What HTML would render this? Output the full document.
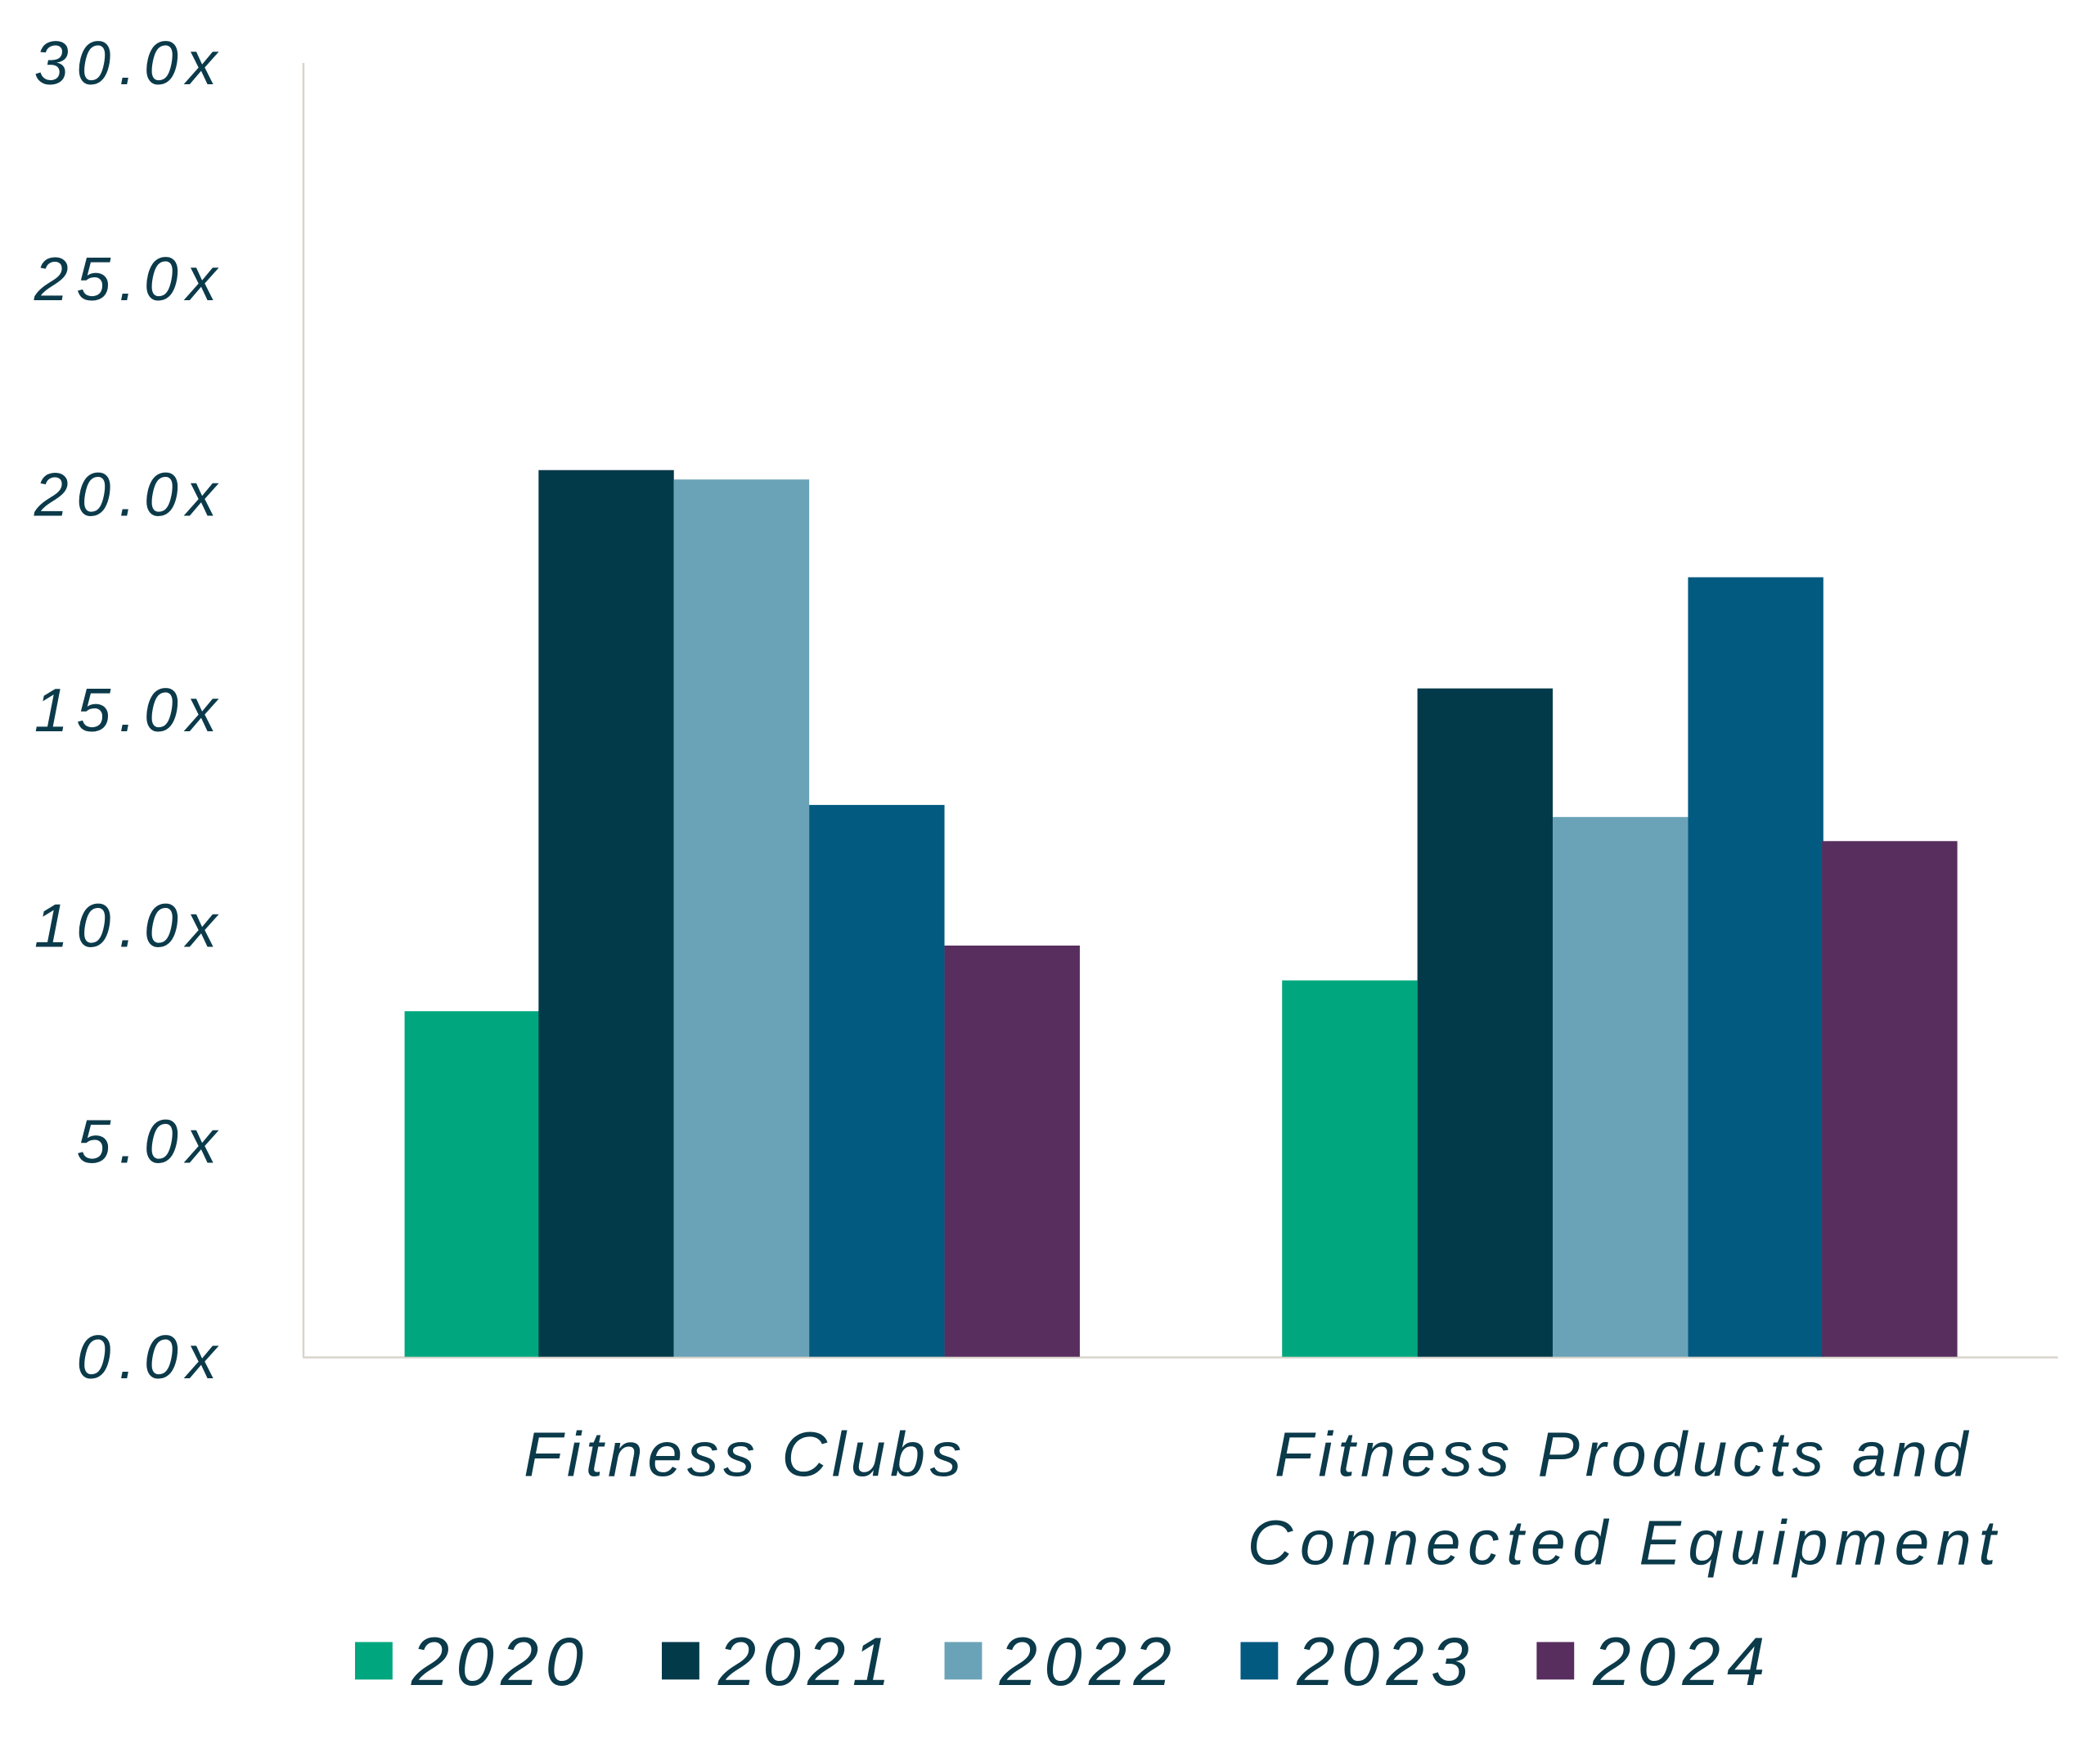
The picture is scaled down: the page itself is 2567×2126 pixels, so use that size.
<!DOCTYPE html>
<html><head><meta charset="utf-8"><style>
html,body{margin:0;padding:0;background:#fff}
svg{display:block}
text{font-family:"Liberation Sans",sans-serif;font-style:italic;fill:#0b3a4a}
</style></head><body>
<svg width="2567" height="2126" viewBox="0 0 1567.5 1298.4" preserveAspectRatio="none" xmlns="http://www.w3.org/2000/svg">
<line x1="226.5" y1="47" x2="226.5" y2="1013" stroke="#d9d4cc" stroke-width="1.5"/>
<line x1="226" y1="1013.5" x2="1536" y2="1013.5" stroke="#d9d4cc" stroke-width="1.5"/>
<g font-size="46" text-anchor="end" letter-spacing="6">
<text x="168" y="63">30.0x</text>
<text x="168" y="224">25.0x</text>
<text x="168" y="385">20.0x</text>
<text x="168" y="546">15.0x</text>
<text x="168" y="707">10.0x</text>
<text x="168" y="868">5.0x</text>
<text x="168" y="1029">0.0x</text>
</g>
<rect x="302" y="755" width="101" height="258" fill="#00a77e"/>
<rect x="402" y="351" width="101" height="662" fill="#023a4a"/>
<rect x="503" y="358" width="101" height="655" fill="#6aa3b8"/>
<rect x="604" y="601" width="101" height="412" fill="#035a80"/>
<rect x="705" y="706" width="101" height="307" fill="#572e5e"/>
<rect x="957" y="732" width="101" height="281" fill="#00a77e"/>
<rect x="1058" y="514" width="101" height="499" fill="#023a4a"/>
<rect x="1159" y="610" width="101" height="403" fill="#6aa3b8"/>
<rect x="1260" y="431" width="101" height="582" fill="#035a80"/>
<rect x="1360" y="628" width="101" height="385" fill="#572e5e"/>
<g font-size="47" text-anchor="middle">
<text x="556" y="1102" letter-spacing="3.5">Fitness Clubs</text>
<text x="1212" y="1102" letter-spacing="4">Fitness Products and</text>
<text x="1213" y="1168" letter-spacing="5.2">Connected Equipment</text>
</g>
<g font-size="51" letter-spacing="5">
<rect x="265" y="1226" width="28" height="28" fill="#00a77e"/><text x="307" y="1258">2020</text>
<rect x="494" y="1226" width="28" height="28" fill="#023a4a"/><text x="536" y="1258">2021</text>
<rect x="705" y="1226" width="28" height="28" fill="#6aa3b8"/><text x="746" y="1258">2022</text>
<rect x="926" y="1226" width="28" height="28" fill="#035a80"/><text x="968" y="1258">2023</text>
<rect x="1147" y="1226" width="28" height="28" fill="#572e5e"/><text x="1189" y="1258">2024</text>
</g>
</svg>
</body></html>
